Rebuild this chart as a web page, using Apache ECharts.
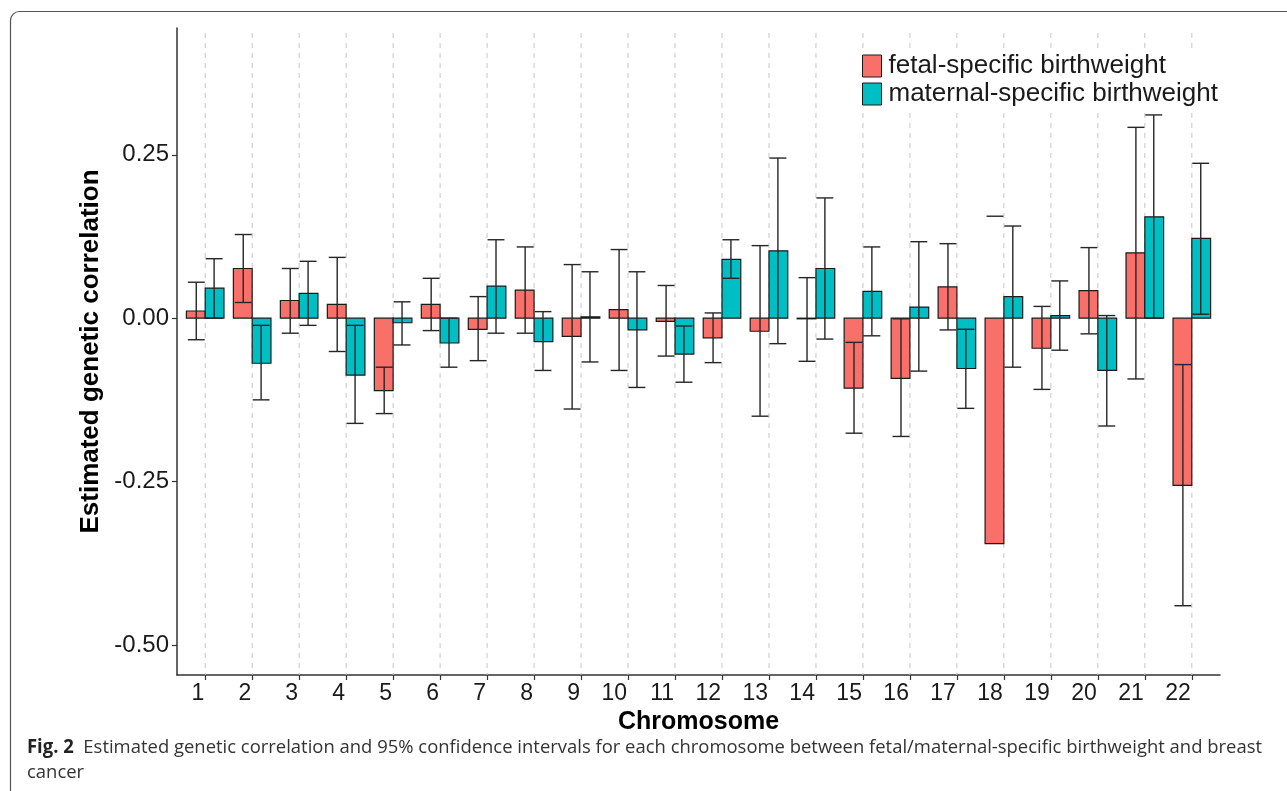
<!DOCTYPE html>
<html>
<head>
<meta charset="utf-8">
<script src="https://cdn.jsdelivr.net/npm/echarts@6/dist/echarts.min.js"></script>
<style>
html,body{margin:0;padding:0;background:#fff;}
#chart{width:1287px;height:791px;}
</style>
</head>
<body>
<div id="chart"></div>
<script>
// ---------------- data ----------------
const chromosomes = [1,2,3,4,5,6,7,8,9,10,11,12,13,14,15,16,17,18,19,20,21,22];

const fetalEstimate = [0.011, 0.076, 0.027, 0.021, -0.111, 0.021, -0.017, 0.043, -0.028, 0.013, -0.005,
                       -0.030, -0.020, -0.001, -0.107, -0.092, 0.048, -0.345, -0.046, 0.042, 0.100, -0.256];
const fetalLower    = [-0.033, 0.024, -0.023, -0.051, -0.146, -0.019, -0.065, -0.023, -0.139, -0.080, -0.058,
                       -0.068, -0.150, -0.066, -0.176, -0.181, -0.018, null, -0.109, -0.024, -0.093, -0.440];
const fetalUpper    = [0.055, 0.128, 0.076, 0.093, -0.075, 0.061, 0.033, 0.109, 0.082, 0.105, 0.050,
                       0.008, 0.111, 0.062, -0.037, -0.001, 0.114, 0.156, 0.018, 0.108, 0.292, -0.071];

const maternalEstimate = [0.046, -0.069, 0.038, -0.087, -0.007, -0.038, 0.049, -0.036, 0.002, -0.018, -0.055,
                          0.090, 0.103, 0.076, 0.041, 0.017, -0.077, 0.033, 0.004, -0.080, 0.155, 0.122];
const maternalLower    = [0.000, -0.125, -0.011, -0.161, -0.041, -0.075, -0.023, -0.080, -0.067, -0.106, -0.098,
                          0.061, -0.039, -0.032, -0.027, -0.081, -0.138, -0.075, -0.049, -0.165, 0.000, 0.006];
const maternalUpper    = [0.091, -0.011, 0.087, -0.011, 0.025, 0.000, 0.120, 0.010, 0.071, 0.071, -0.012,
                          0.120, 0.245, 0.184, 0.109, 0.117, -0.017, 0.141, 0.057, 0.004, 0.311, 0.237];

const yTicks = [-0.5, -0.25, 0, 0.25];
const seriesNames = ['fetal-specific birthweight', 'maternal-specific birthweight'];
const xAxisTitle = 'Chromosome';
const yAxisTitle = 'Estimated genetic correlation';
const captionBold = 'Fig. 2';
const captionLine1 = 'Estimated genetic correlation and 95% confidence intervals for each chromosome between fetal/maternal-specific birthweight and breast';
const captionLine2 = 'cancer';

// ---------------- styles ----------------
const RED = '#F9706A';
const TEAL = '#00BFC4';
const PLOT_FONT = '"Liberation Sans", Arial, Helvetica, sans-serif';
const CAP_FONT = '"Open Sans", "Noto Sans", sans-serif';
const CAP_SIZE = 19;
const BAR_W = 0.4;       // bar width in category units
const ERR_OFF = 0.19;    // error bar centre offset
const CAP_HALF = 0.18;   // half cap width

// caption horizontal fit
const mctx = document.createElement('canvas').getContext('2d');
mctx.font = 'bold ' + CAP_SIZE + 'px ' + CAP_FONT;
const wBold = mctx.measureText(captionBold).width;
mctx.font = CAP_SIZE + 'px ' + CAP_FONT;
const wRest = mctx.measureText('  ' + captionLine1).width;
const capScale = 1235 / (wBold + wRest);

const chart = echarts.init(document.getElementById('chart'), null, {renderer: 'canvas'});

function barRender(side) {
  return function (params, api) {
    const x = api.value(0), v = api.value(1);
    const x0 = side < 0 ? x - BAR_W : x;
    const x1 = side < 0 ? x : x + BAR_W;
    const a = api.coord([x0, 0]);
    const b = api.coord([x1, v]);
    return {
      type: 'rect',
      shape: {
        x: Math.min(a[0], b[0]),
        y: Math.min(a[1], b[1]),
        width: Math.abs(b[0] - a[0]),
        height: Math.max(Math.abs(b[1] - a[1]), 0.6)
      },
      style: {fill: api.visual('color'), stroke: '#1a1a1a', lineWidth: 1.2}
    };
  };
}

function errRender(offset) {
  return function (params, api) {
    const x = api.value(0) + offset;
    const lo = api.value(1), hi = api.value(2);
    const style = {stroke: '#262626', lineWidth: 1.4, fill: null};
    const children = [];
    const pHi = api.coord([x, hi]);
    const hasLo = lo !== null && lo !== undefined && !isNaN(lo);
    if (hasLo) {
      const pLo = api.coord([x, lo]);
      children.push({type: 'line', shape: {x1: pLo[0], y1: pLo[1], x2: pHi[0], y2: pHi[1]}, style: style});
      const l = api.coord([x - CAP_HALF, lo]), r = api.coord([x + CAP_HALF, lo]);
      children.push({type: 'line', shape: {x1: l[0], y1: l[1], x2: r[0], y2: r[1]}, style: style});
    }
    const l2 = api.coord([x - CAP_HALF, hi]), r2 = api.coord([x + CAP_HALF, hi]);
    children.push({type: 'line', shape: {x1: l2[0], y1: l2[1], x2: r2[0], y2: r2[1]}, style: style});
    return {type: 'group', children: children};
  };
}

function gridRender(params, api) {
  const cs = params.coordSys;
  const p = api.coord([api.value(0), 0]);
  return {
    type: 'line',
    shape: {x1: p[0], y1: cs.y + 5, x2: p[0], y2: cs.y + cs.height},
    style: {stroke: '#c6c6c6', lineWidth: 1, lineDash: [5, 5]}
  };
}

const option = {
  animation: false,
  backgroundColor: '#ffffff',
  grid: {left: 177, right: 67, top: 28, bottom: 116, containLabel: false},
  legend: {
    show: true,
    orient: 'vertical',
    left: 857,
    top: 50,
    padding: [3, 4, 6, 5],
    backgroundColor: '#ffffff',
    itemWidth: 19,
    itemHeight: 22,
    itemGap: 2,
    icon: 'rect',
    selectedMode: false,
    textStyle: {fontSize: 26, lineHeight: 22, fontFamily: PLOT_FONT, color: '#1a1a1a', padding: [0, 0, 0, 2]},
    data: [
      {name: seriesNames[0], itemStyle: {color: RED, borderColor: '#1a1a1a', borderWidth: 1}},
      {name: seriesNames[1], itemStyle: {color: TEAL, borderColor: '#1a1a1a', borderWidth: 1}}
    ]
  },
  xAxis: {
    type: 'value',
    min: 0.4,
    max: 22.6,
    splitLine: {show: false},
    axisLine: {show: true, onZero: false, lineStyle: {color: '#333', width: 1.5}},
    axisTick: {show: true, customValues: chromosomes, length: 5, lineStyle: {color: '#333', width: 1.2}},
    axisLabel: {
      customValues: chromosomes,
      align: 'right',
      margin: 7,
      fontSize: 23,
      fontFamily: PLOT_FONT,
      color: '#1a1a1a',
      padding: [0, 1, 0, 0]
    },
    name: xAxisTitle,
    nameLocation: 'middle',
    nameGap: 29,
    nameTextStyle: {fontSize: 25, fontWeight: 'bold', fontFamily: PLOT_FONT, color: '#000'}
  },
  yAxis: {
    type: 'value',
    min: -0.546,
    max: 0.444,
    splitLine: {show: false},
    axisLine: {show: true, onZero: false, lineStyle: {color: '#333', width: 1.5}},
    axisTick: {show: true, customValues: yTicks, length: 5, lineStyle: {color: '#333', width: 1.2}},
    axisLabel: {
      customValues: yTicks,
      formatter: function (v) { return Number(v).toFixed(2); },
      margin: 8,
      fontSize: 24,
      fontFamily: PLOT_FONT,
      color: '#1a1a1a'
    },
    name: yAxisTitle,
    nameLocation: 'middle',
    nameGap: 68,
    nameRotate: 90,
    nameTextStyle: {fontSize: 26, fontWeight: 'bold', fontFamily: PLOT_FONT, color: '#000'}
  },
  series: [
    {
      type: 'custom',
      name: 'gridlines',
      z: 1,
      silent: true,
      renderItem: gridRender,
      encode: {x: 0, y: 1},
      data: chromosomes.map(function (c) { return [c, 0]; })
    },
    {
      type: 'custom',
      name: seriesNames[0],
      z: 2,
      itemStyle: {color: RED},
      renderItem: barRender(-1),
      encode: {x: 0, y: 1},
      data: chromosomes.map(function (c, i) { return [c, fetalEstimate[i]]; })
    },
    {
      type: 'custom',
      name: seriesNames[1],
      z: 2,
      itemStyle: {color: TEAL},
      renderItem: barRender(1),
      encode: {x: 0, y: 1},
      data: chromosomes.map(function (c, i) { return [c, maternalEstimate[i]]; })
    },
    {
      type: 'custom',
      name: 'fetal CI',
      z: 3,
      silent: true,
      renderItem: errRender(-ERR_OFF),
      encode: {x: 0, y: [1, 2]},
      data: chromosomes.map(function (c, i) { return [c, fetalLower[i] === null ? '-' : fetalLower[i], fetalUpper[i]]; })
    },
    {
      type: 'custom',
      name: 'maternal CI',
      z: 3,
      silent: true,
      renderItem: errRender(ERR_OFF),
      encode: {x: 0, y: [1, 2]},
      data: chromosomes.map(function (c, i) { return [c, maternalLower[i], maternalUpper[i]]; })
    }
  ],
  graphic: [
    {
      type: 'rect',
      silent: true,
      shape: {x: 10.5, y: 11.5, width: 1400, height: 900, r: 9},
      style: {fill: 'none', stroke: '#555', lineWidth: 1.2}
    },
    {
      type: 'text',
      silent: true,
      x: 27,
      y: 748,
      scaleX: capScale,
      style: {
        x: 0, y: 0,
        text: '{b|' + captionBold + '}{r|  ' + captionLine1 + '}',
        verticalAlign: 'middle',
        rich: {
          b: {fontSize: CAP_SIZE, fontWeight: 'bold', fontFamily: CAP_FONT, fill: '#222'},
          r: {fontSize: CAP_SIZE, fontFamily: CAP_FONT, fill: '#333'}
        }
      }
    },
    {
      type: 'text',
      silent: true,
      x: 27,
      y: 773,
      scaleX: capScale,
      style: {
        x: 0, y: 0,
        text: captionLine2,
        verticalAlign: 'middle',
        fontSize: CAP_SIZE,
        fontFamily: CAP_FONT,
        fill: '#333'
      }
    }
  ]
};

chart.setOption(option);
</script>
</body>
</html>
